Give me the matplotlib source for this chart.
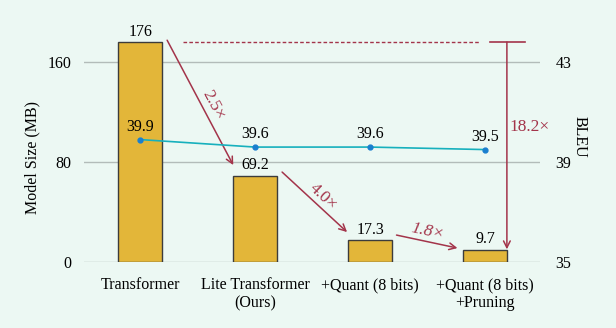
import numpy as np
import matplotlib.pyplot as plt

plt.rcParams['font.family'] = ['Liberation Serif', 'DejaVu Serif']
plt.rcParams['font.size'] = 11.5

models = ['Transformer', 'Lite Transformer\n(Ours)', '+Quant (8 bits)', '+Quant (8 bits)\n+Pruning']
size_mb = [176, 69.2, 17.3, 9.7]
bleu = [39.9, 39.6, 39.6, 39.5]
ratios = ['2.5×', '4.0×', '1.8×']
total_ratio = '18.2×'

bg = '#ecf8f3'
bar_c = '#e3b639'
line_c = '#17b0bd'
dot_c = '#1a7fcf'
red = '#a3344a'
grid_c = '#b3bcb9'

fig = plt.figure(figsize=(6.16, 3.28), dpi=100, facecolor=bg)
ymax = 200
ax = fig.add_axes([0.136, 0.201, 0.741, ymax * 1.25 / 328], facecolor=bg)
x = np.arange(len(models))

ax.set_xlim(-0.49, 3.48)
ax.set_ylim(0, ymax)
ax.set_yticks([0, 80, 160])
ax.grid(axis='y', color=grid_c, lw=1.0)
ax.set_axisbelow(True)
for s in ax.spines.values():
    s.set_visible(False)
ax.tick_params(axis='y', length=0, pad=9)
ax.tick_params(axis='x', length=0, pad=11)
ax.set_xticks(x)
ax.set_xticklabels(models, linespacing=1.15)
ax.set_ylabel('Model Size (MB)')
ax.yaxis.set_label_coords(-0.094, 0.42)

ax.bar(x, size_mb, width=0.385, color=bar_c, edgecolor='#3c3c3c', lw=1.0, zorder=2)
for xi, v in zip(x, size_mb):
    ax.text(xi, v + 2, f'{v:g}', ha='center', va='bottom', zorder=5)

# BLEU on the right axis
ax2 = ax.twinx()
ax2.set_ylim(35, 35 + ymax / 20)
ax2.set_yticks([35, 39, 43])
for s in ax2.spines.values():
    s.set_visible(False)
ax2.tick_params(length=0, pad=11)
ax2.set_ylabel('BLEU', rotation=270, labelpad=12)
ax2.plot(x, bleu, color=line_c, lw=1.2, zorder=3)
ax2.plot(x, bleu, 'o', color=dot_c, ms=3.5, zorder=4)
for xi, b in zip(x, bleu):
    ax2.text(xi, b + 0.2, f'{b:g}', ha='center', va='bottom')

# compression arrows between neighbouring models
arrows = [((0.235, 177.5), (0.81, 77.6)),
          ((1.235, 72), (1.8, 24)),
          ((2.23, 21.6), (2.76, 11.2))]
label_pos = [(0.635, 126, -62, 'normal'),
             (1.59, 52, -43, 'normal'),
             (2.50, 24, -12, 'italic')]
for (p0, p1), r, (lx, ly, rot, st) in zip(arrows, ratios, label_pos):
    ax.annotate('', xy=p1, xytext=p0,
                arrowprops=dict(arrowstyle='->', color=red, lw=1.1,
                                shrinkA=0, shrinkB=0, mutation_scale=12))
    ax.text(lx, ly, r, color=red, rotation=rot, ha='center', va='center',
            style=st, rotation_mode='anchor', fontsize=12.5)

# overall reduction
ax.plot([0.37, 2.96], [size_mb[0], size_mb[0]], color=red, lw=1.0, ls=(0, (2.6, 1.6)))
ax.plot([3.04, 3.35], [size_mb[0], size_mb[0]], color=red, lw=1.2)
ax.annotate('', xy=(3.19, size_mb[-1] + 0.5), xytext=(3.19, size_mb[0]),
            arrowprops=dict(arrowstyle='->', color=red, lw=1.1,
                            shrinkA=0, shrinkB=0, mutation_scale=12))
ax.text(3.21, 108, total_ratio, color=red, ha='left', va='center', fontsize=12.5)

fig.savefig('out.png', dpi=100, facecolor=bg)
